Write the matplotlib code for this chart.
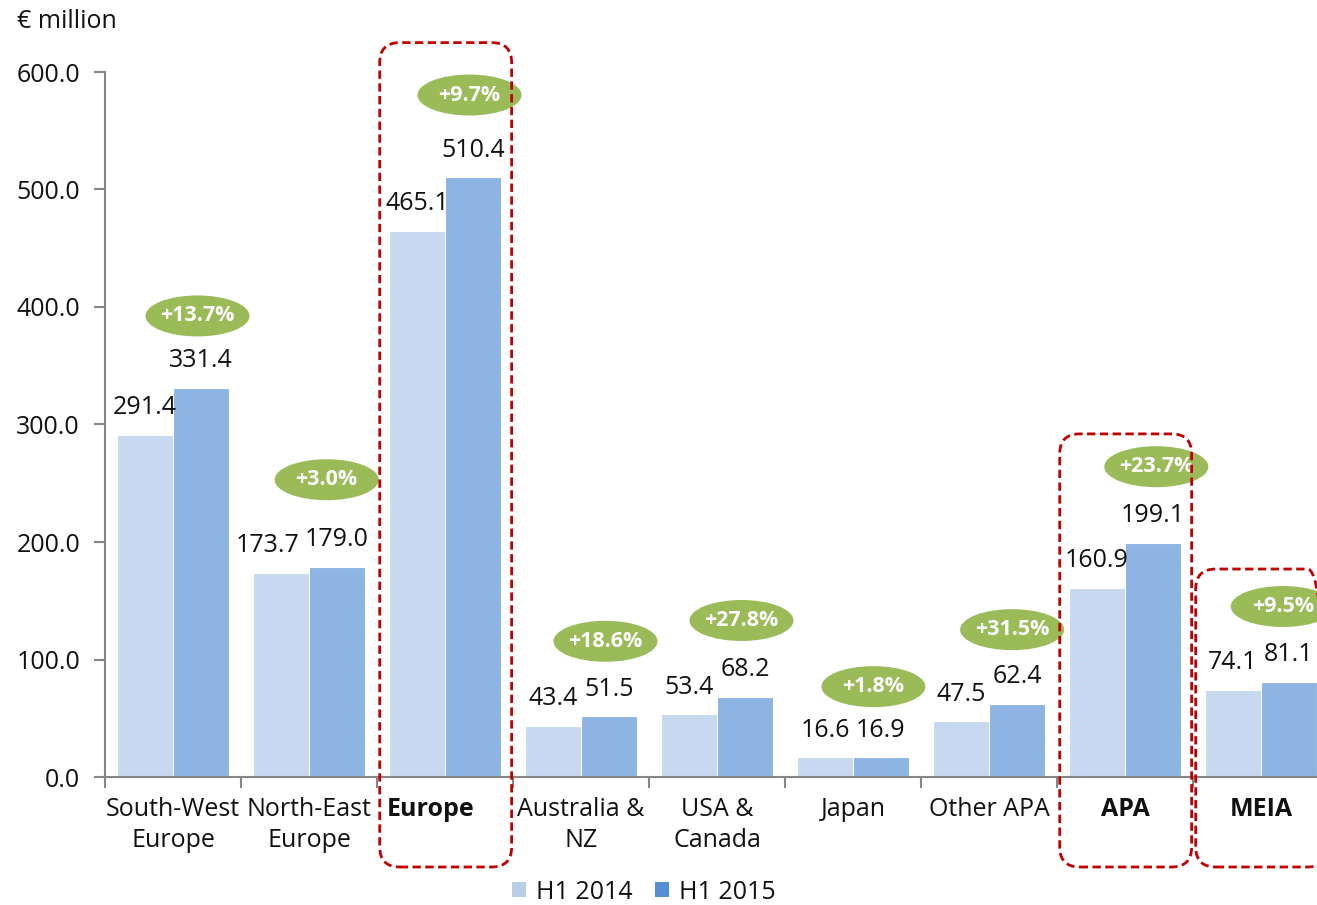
import matplotlib
matplotlib.use("Agg")
import matplotlib.pyplot as plt
from matplotlib.patches import Ellipse, FancyBboxPatch, Patch
from matplotlib.transforms import IdentityTransform, offset_copy
import numpy as np

plt.rcParams["font.family"] = ["Open Sans", "DejaVu Sans"]

categories = ["South-West\nEurope", "North-East\nEurope", "Europe", "Australia &\nNZ",
              "USA &\nCanada", "Japan", "Other APA", "APA", "MEIA"]
h1_2014 = [291.4, 173.7, 465.1, 43.4, 53.4, 16.6, 47.5, 160.9, 74.1]
h1_2015 = [331.4, 179.0, 510.4, 51.5, 68.2, 16.9, 62.4, 199.1, 81.1]
growth = ["+13.7%", "+3.0%", "+9.7%", "+18.6%", "+27.8%", "+1.8%", "+31.5%", "+23.7%", "+9.5%"]
totals = ["Europe", "APA", "MEIA"]

C14 = "#c6d9f1"
C15 = "#8eb4e3"
LEG14 = "#b9cde5"
LEG15 = "#558ed5"
GREEN = "#9bbb59"
AXIS = "#868686"
RED = "#c00000"
INK = "#111111"
FS = 18

W, H, DPI = 1317, 905, 100
fig = plt.figure(figsize=(W / DPI, H / DPI), dpi=DPI)
ax = fig.add_axes([105 / W, 128 / H, 1224 / W, 705 / H])

x = np.arange(len(categories))
bw = 0.41
ax.bar(x - bw / 2, h1_2014, bw, color=C14, edgecolor="white", linewidth=0.8, zorder=2)
ax.bar(x + bw / 2, h1_2015, bw, color=C15, edgecolor="white", linewidth=0.8, zorder=2)

ax.set_xlim(-0.5, len(categories) - 0.5)
ax.set_ylim(0, 600)
ax.set_yticks(np.arange(0, 601, 100))
ax.set_yticklabels([f"{v:.1f}" for v in np.arange(0, 601, 100)], fontsize=FS, color=INK)
ax.set_xticks(np.arange(-0.5, len(categories), 1.0))
ax.set_xticklabels([])
ax.tick_params(axis="x", which="major", length=8, width=1.5, color=AXIS, direction="out")
ax.tick_params(axis="y", length=8, width=1.5, color=AXIS, direction="out", pad=10)

# category names under the axis; the Europe total sits a little left of centre
label_shift = {"Europe": -0.107}
below = offset_copy(ax.get_xaxis_transform(), fig=fig, y=-20, units="dots")
for i, name in enumerate(categories):
    ax.text(x[i] + label_shift.get(name, 0), 0, name, transform=below, ha="center", va="top",
            fontsize=FS, linespacing=1.32, color=INK,
            fontweight="bold" if name in totals else "normal",
            multialignment="center")

for side in ("top", "right"):
    ax.spines[side].set_visible(False)
for side in ("left", "bottom"):
    ax.spines[side].set_color(AXIS)
    ax.spines[side].set_linewidth(1.5)
ax.spines["bottom"].set_zorder(3)

# value labels above bars; 173.7 nudged left so it clears its neighbour
nudge_2014 = [0, -10, 0, 0, 0, 0, 0, 0, 0]
for i, (a, b) in enumerate(zip(h1_2014, h1_2015)):
    ax.annotate(f"{a:.1f}", (x[i] - bw / 2, a), xytext=(nudge_2014[i], 19.5),
                textcoords="offset points", ha="center", va="center", fontsize=FS,
                color=INK, annotation_clip=False)
    ax.annotate(f"{b:.1f}", (x[i] + bw / 2, b), xytext=(0, 19.5),
                textcoords="offset points", ha="center", va="center", fontsize=FS,
                color=INK, annotation_clip=False)

# growth badges: offset from the category centre / taller bar
badge_dx = [0.18, 0.13, 0.18, 0.18, 0.18, 0.15, 0.17, 0.23, 0.16]
badge_dy = [61, 74, 70, 64, 65, 60, 63, 65, 64]
for i, txt in enumerate(growth):
    cx = x[i] + badge_dx[i]
    cy = max(h1_2014[i], h1_2015[i]) + badge_dy[i]
    ax.add_patch(Ellipse((cx, cy), 104 / 136, 41 / 1.175, facecolor=GREEN,
                         edgecolor="none", zorder=4, clip_on=False))
    ax.text(cx, cy, txt, ha="center", va="center", color="white", fontsize=15.5,
            fontweight="bold", zorder=5, clip_on=False)

# dashed frames around the total columns
fig.canvas.draw()
frame_top = {"Europe": 625, "APA": 292, "MEIA": 177}
for name, top in frame_top.items():
    k = categories.index(name)
    x0, y1 = ax.transData.transform((k - 0.48, top))
    x1, y0 = ax.transData.transform((k + 0.49, 0))
    y0 -= 90
    ax.add_patch(FancyBboxPatch((x0 + 10, y0 + 10), x1 - x0 - 20, y1 - y0 - 20,
                                boxstyle="round,pad=10,rounding_size=20",
                                transform=IdentityTransform(), facecolor="none",
                                edgecolor=RED, linewidth=2, linestyle=(0, (3, 1.6)),
                                zorder=6, clip_on=False))

fig.text(17 / W, 1 - 22 / H, "€ million", fontsize=FS, va="center", ha="left", color=INK)

handles = [Patch(facecolor=LEG14, label="H1 2014"), Patch(facecolor=LEG15, label="H1 2015")]
leg = fig.legend(handles=handles, loc="center", bbox_to_anchor=(644 / W, 1 - 892 / H), ncol=2,
                 frameon=False, fontsize=FS, handlelength=0.55, handleheight=0.55,
                 handletextpad=0.4, columnspacing=0.9)
for t in leg.get_texts():
    t.set_color(INK)

fig.savefig("out.png", dpi=DPI, facecolor="white")
